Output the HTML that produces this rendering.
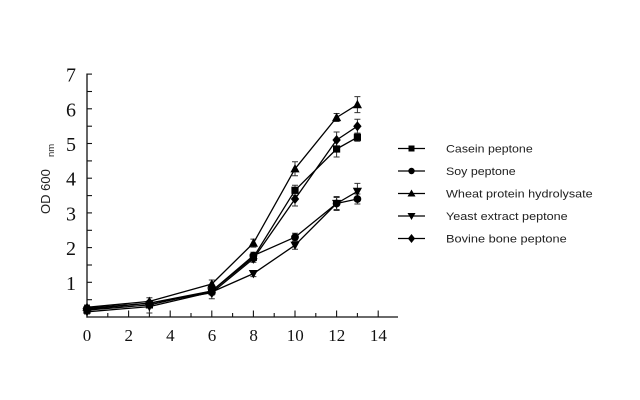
<!DOCTYPE html>
<html><head><meta charset="utf-8"><style>
html,body{margin:0;padding:0;background:#fff;width:640px;height:400px;overflow:hidden}
svg{display:block}
</style></head><body>
<svg width="640" height="400" viewBox="0 0 640 400" xmlns="http://www.w3.org/2000/svg">
<defs>
<rect id="sq" x="-3.6" y="-3.6" width="7.2" height="7.2" fill="#000"/>
<circle id="ci" r="3.9" fill="#000"/>
<polygon id="tu" points="0,-4.8 4.6,3.6 -4.6,3.6" fill="#000"/>
<polygon id="td" points="0,4.8 4.6,-3.6 -4.6,-3.6" fill="#000"/>
<polygon id="di" points="0,-5 4.2,0 0,5 -4.2,0" fill="#000"/>
<rect id="lsq" x="-3" y="-3" width="6" height="6" fill="#000"/>
<circle id="lci" r="3.2" fill="#000"/>
<polygon id="ltu" points="0,-4 4,3 -4,3" fill="#000"/>
<polygon id="ltd" points="0,4 4,-3 -4,-3" fill="#000"/>
<polygon id="ldi" points="0,-4.5 3.6,0 0,4.5 -3.6,0" fill="#000"/>
</defs>

<!-- axes -->
<g stroke="#111" stroke-width="1.3" fill="none">
<line x1="87" y1="73.5" x2="87" y2="317.6"/>
<line x1="86.4" y1="317" x2="398" y2="317"/>
</g>
<!-- y ticks -->
<g stroke="#111" stroke-width="1.1">
<line x1="87" y1="74.1" x2="92" y2="74.1"/>
<line x1="87" y1="91.5" x2="92" y2="91.5"/>
<line x1="87" y1="108.8" x2="92" y2="108.8"/>
<line x1="87" y1="126.2" x2="92" y2="126.2"/>
<line x1="87" y1="143.5" x2="92" y2="143.5"/>
<line x1="87" y1="160.9" x2="92" y2="160.9"/>
<line x1="87" y1="178.2" x2="92" y2="178.2"/>
<line x1="87" y1="195.6" x2="92" y2="195.6"/>
<line x1="87" y1="212.9" x2="92" y2="212.9"/>
<line x1="87" y1="230.3" x2="92" y2="230.3"/>
<line x1="87" y1="247.6" x2="92" y2="247.6"/>
<line x1="87" y1="265.0" x2="92" y2="265.0"/>
<line x1="87" y1="282.3" x2="92" y2="282.3"/>
<line x1="87" y1="299.7" x2="92" y2="299.7"/>
</g>
<!-- x ticks -->
<g stroke="#111" stroke-width="1.1">
<line x1="107.8" y1="317" x2="107.8" y2="313"/>
<line x1="128.6" y1="317" x2="128.6" y2="310.5"/>
<line x1="149.4" y1="317" x2="149.4" y2="313"/>
<line x1="170.2" y1="317" x2="170.2" y2="310.5"/>
<line x1="191" y1="317" x2="191" y2="313"/>
<line x1="211.8" y1="317" x2="211.8" y2="310.5"/>
<line x1="232.6" y1="317" x2="232.6" y2="313"/>
<line x1="253.4" y1="317" x2="253.4" y2="310.5"/>
<line x1="274.2" y1="317" x2="274.2" y2="313"/>
<line x1="295" y1="317" x2="295" y2="310.5"/>
<line x1="315.8" y1="317" x2="315.8" y2="313"/>
<line x1="336.6" y1="317" x2="336.6" y2="310.5"/>
<line x1="357.4" y1="317" x2="357.4" y2="313"/>
<line x1="378.2" y1="317" x2="378.2" y2="310.5"/>
</g>

<!-- y tick labels -->
<g font-family="Liberation Serif, serif" font-size="20" fill="#111" text-anchor="end">
<text x="76" y="81.6">7</text>
<text x="76" y="116.3">6</text>
<text x="76" y="151">5</text>
<text x="76" y="185.7">4</text>
<text x="76" y="220.4">3</text>
<text x="76" y="255.1">2</text>
<text x="76" y="289.8">1</text>
</g>
<!-- x tick labels -->
<g font-family="Liberation Serif, serif" font-size="17" fill="#111" text-anchor="middle">
<text x="87" y="341">0</text>
<text x="128.8" y="341">2</text>
<text x="170.4" y="341">4</text>
<text x="212" y="341">6</text>
<text x="253.6" y="341">8</text>
<text x="295.2" y="341">10</text>
<text x="336.8" y="341">12</text>
<text x="378.4" y="341">14</text>
</g>

<!-- y axis label -->
<text transform="translate(50,214) rotate(-90)" font-family="Liberation Sans, sans-serif" font-size="13" fill="#222">OD 600<tspan x="57" dy="4" font-size="9.5">nm</tspan></text>

<!-- error bars -->
<g stroke="#333" stroke-width="1" fill="none">
<!-- Casein -->
<path d="M357.4,133.3V141.3M354.4,133.3H360.4M354.4,141.3H360.4"/>
<path d="M336.6,141V157M333.6,141H339.6M333.6,157H339.6"/>
<path d="M295,185.3V195.3M292,185.3H298M292,195.3H298"/>
<path d="M253.4,252.3V262.3M250.4,252.3H256.4M250.4,262.3H256.4"/>
<path d="M211.8,287V295M208.8,287H214.8M208.8,295H214.8"/>
<!-- Soy -->
<path d="M357.4,194V204M354.4,194H360.4M354.4,204H360.4"/>
<path d="M336.6,196.5V210.5M333.6,196.5H339.6M333.6,210.5H339.6"/>
<path d="M295,233.2V241.2M292,233.2H298M292,241.2H298"/>
<!-- Wheat -->
<path d="M357.4,96.6V112.6M354.4,96.6H360.4M354.4,112.6H360.4"/>
<path d="M336.6,113.5V121.5M333.6,113.5H339.6M333.6,121.5H339.6"/>
<path d="M295,161.8V175.8M292,161.8H298M292,175.8H298"/>
<path d="M253.4,239.1V247.1M250.4,239.1H256.4M250.4,247.1H256.4"/>
<path d="M211.8,280V288M208.8,280H214.8M208.8,288H214.8"/>
<!-- Yeast -->
<path d="M357.4,183.4V199.4M354.4,183.4H360.4M354.4,199.4H360.4"/>
<path d="M336.6,197.5V209.5M333.6,197.5H339.6M333.6,209.5H339.6"/>
<path d="M295,241.2V249.2M292,241.2H298M292,249.2H298"/>
<path d="M253.4,270.6V276.6M250.4,270.6H256.4M250.4,276.6H256.4"/>
<path d="M149.4,297.8V313M146.4,297.8H152.4M146.4,313H152.4"/>
<!-- Bovine -->
<path d="M357.4,119.2V133.2M354.4,119.2H360.4M354.4,133.2H360.4"/>
<path d="M336.6,132V148M333.6,132H339.6M333.6,148H339.6"/>
<path d="M295,192V206M292,192H298M292,206H298"/>
<path d="M211.8,286.7V298.7M208.8,286.7H214.8M208.8,298.7H214.8"/>
<path d="M87,305V314M84,305H90M84,314H90"/>
</g>

<!-- series lines -->
<g stroke="#000" stroke-width="1.3" fill="none" stroke-linejoin="round">
<polyline points="87,310.1 149.4,304.9 211.8,291 253.4,257.3 295,190.3 336.6,149 357.4,137.3"/>
<polyline points="87,308.3 149.4,303.1 211.8,291 253.4,255.6 295,237.2 336.6,203.5 357.4,199"/>
<polyline points="87,307.3 149.4,301.4 211.8,284 253.4,243.1 295,168.8 336.6,117.5 357.4,104.6"/>
<polyline points="87,311.8 149.4,306.6 211.8,292 253.4,273.6 295,245.2 336.6,203.5 357.4,191.4"/>
<polyline points="87,309.4 149.4,303.1 211.8,292.7 253.4,258.7 295,199 336.6,140 357.4,126.2"/>
</g>

<!-- markers -->
<g>
<use href="#sq" x="87" y="310.1"/><use href="#sq" x="149.4" y="304.9"/><use href="#sq" x="211.8" y="291"/><use href="#sq" x="253.4" y="257.3"/><use href="#sq" x="295" y="190.3"/><use href="#sq" x="336.6" y="149"/><use href="#sq" x="357.4" y="137.3"/>
<use href="#ci" x="87" y="308.3"/><use href="#ci" x="149.4" y="303.1"/><use href="#ci" x="211.8" y="291"/><use href="#ci" x="253.4" y="255.6"/><use href="#ci" x="295" y="237.2"/><use href="#ci" x="336.6" y="203.5"/><use href="#ci" x="357.4" y="199"/>
<use href="#tu" x="87" y="307.3"/><use href="#tu" x="149.4" y="301.4"/><use href="#tu" x="211.8" y="284"/><use href="#tu" x="253.4" y="243.1"/><use href="#tu" x="295" y="168.8"/><use href="#tu" x="336.6" y="117.5"/><use href="#tu" x="357.4" y="104.6"/>
<use href="#td" x="87" y="311.8"/><use href="#td" x="149.4" y="306.6"/><use href="#td" x="211.8" y="292"/><use href="#td" x="253.4" y="273.6"/><use href="#td" x="295" y="245.2"/><use href="#td" x="336.6" y="203.5"/><use href="#td" x="357.4" y="191.4"/>
<use href="#di" x="87" y="309.4"/><use href="#di" x="149.4" y="303.1"/><use href="#di" x="211.8" y="292.7"/><use href="#di" x="253.4" y="258.7"/><use href="#di" x="295" y="199"/><use href="#di" x="336.6" y="140"/><use href="#di" x="357.4" y="126.2"/>
</g>

<!-- legend -->
<g stroke="#000" stroke-width="1.2">
<line x1="398" y1="148.5" x2="425" y2="148.5"/>
<line x1="398" y1="171" x2="425" y2="171"/>
<line x1="398" y1="193.5" x2="425" y2="193.5"/>
<line x1="398" y1="216" x2="425" y2="216"/>
<line x1="398" y1="238.5" x2="425" y2="238.5"/>
</g>
<use href="#lsq" x="411.5" y="148.5"/>
<use href="#lci" x="411.5" y="171"/>
<use href="#ltu" x="411.5" y="193.5"/>
<use href="#ltd" x="411.5" y="216"/>
<use href="#ldi" x="411.5" y="238.5"/>
<g font-family="Liberation Sans, sans-serif" font-size="11" fill="#222">
<text x="446" y="152.5" textLength="86.7" lengthAdjust="spacingAndGlyphs">Casein peptone</text>
<text x="446" y="175" textLength="69.7" lengthAdjust="spacingAndGlyphs">Soy peptone</text>
<text x="446" y="197.5" textLength="146.7" lengthAdjust="spacingAndGlyphs">Wheat protein hydrolysate</text>
<text x="446" y="220" textLength="121.7" lengthAdjust="spacingAndGlyphs">Yeast extract peptone</text>
<text x="446" y="242.5" textLength="120.7" lengthAdjust="spacingAndGlyphs">Bovine bone peptone</text>
</g>
</svg>
</body></html>
